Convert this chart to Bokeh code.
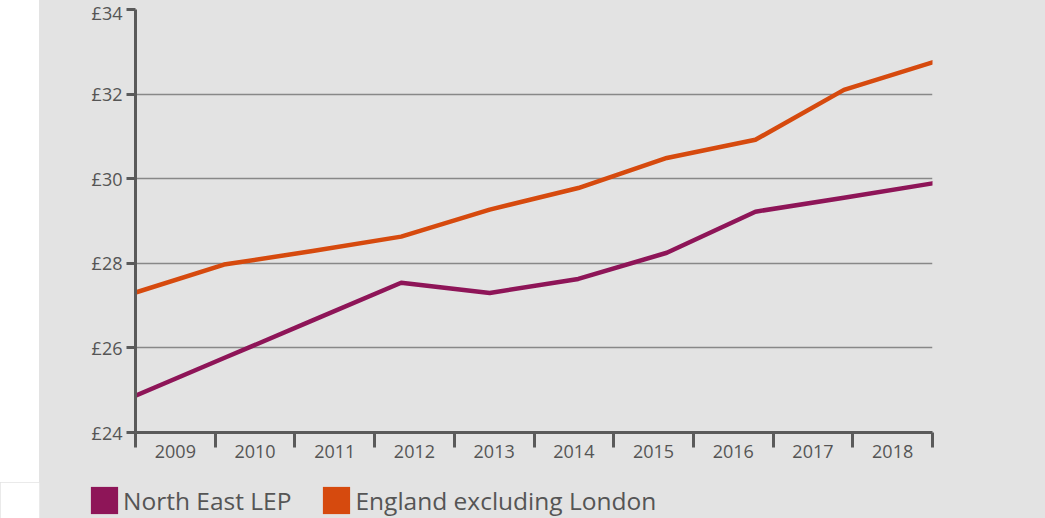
from bokeh.plotting import figure
from bokeh.models import Range1d, FixedTicker, PrintfTickFormatter, Legend, LegendItem, Spacer
from bokeh.layouts import row, column
from bokeh.embed import file_html
from bokeh.resources import INLINE

years = [2009, 2010, 2011, 2012, 2013, 2014, 2015, 2016, 2017, 2018]
year_labels = [str(y) for y in years]
north_east_lep = [24.87, 25.76, 26.65, 27.54, 27.30, 27.63, 28.25, 29.22, 29.55, 29.89]
england_excl_london = [27.31, 27.97, 28.29, 28.63, 29.27, 29.78, 30.49, 30.92, 32.10, 32.75]
y_ticks = [24, 26, 28, 30, 32, 34]
series_names = ["North East LEP", "England excluding London"]
series_colors = ["#8e1558", "#d64a0e"]

BG = "#e3e3e3"
TXT = "#555555"
AXIS = "#5a5a5a"
FONT = "Open Sans"

p = figure(width=1006, height=482,
           x_range=Range1d(years[0], years[-1]), y_range=Range1d(y_ticks[0], y_ticks[-1]),
           output_backend="svg", toolbar_location=None,
           min_border_left=96, min_border_right=113, min_border_top=9, min_border_bottom=50,
           background_fill_color=BG, border_fill_color=BG, outline_line_color=None)
p.styles = {"background-color": BG}

# category bands on the x axis
n = len(years)
band = (years[-1] - years[0]) / n
boundaries = [years[0] + band * k for k in range(n + 1)]
centers = [years[0] + band * (k + 0.5) for k in range(n)]

xa = p.xaxis[0]
xa.ticker = FixedTicker(ticks=centers, minor_ticks=boundaries)
xa.major_label_overrides = {c: lab for c, lab in zip(centers, year_labels)}
xa.major_tick_out = 0
xa.major_tick_in = 0
xa.minor_tick_out = 15
xa.minor_tick_in = 0
xa.minor_tick_line_color = AXIS
xa.minor_tick_line_width = 3
xa.axis_line_color = AXIS
xa.axis_line_width = 3
xa.major_label_standoff = -3
xa.major_label_text_font = FONT
xa.major_label_text_font_size = "18px"
xa.major_label_text_color = TXT

ya = p.yaxis[0]
ya.ticker = FixedTicker(ticks=y_ticks, minor_ticks=[])
ya.formatter = PrintfTickFormatter(format="£%d")
ya.major_tick_out = 9
ya.major_tick_in = 0
ya.major_tick_line_color = AXIS
ya.major_tick_line_width = 3
ya.axis_line_color = AXIS
ya.axis_line_width = 3
ya.major_label_standoff = 4
ya.major_label_text_font = FONT
ya.major_label_text_font_size = "18px"
ya.major_label_text_color = TXT

p.xgrid.visible = False
p.ygrid.ticker = FixedTicker(ticks=y_ticks)
p.ygrid.grid_line_color = "#888888"
p.ygrid.grid_line_width = 1.6

p.line(years, north_east_lep, line_color=series_colors[0], line_width=4.5,
       line_join="round", line_cap="round")
p.line(years, england_excl_london, line_color=series_colors[1], line_width=4.5,
       line_join="round", line_cap="round")

# legend strip below the chart (swatch glyphs carry no visible data)
lg = figure(width=1045, height=36, x_range=Range1d(0, 1), y_range=Range1d(0, 1),
            output_backend="svg", toolbar_location=None,
            x_axis_type=None, y_axis_type=None,
            min_border_left=39, min_border_right=0, min_border_top=0, min_border_bottom=0,
            background_fill_color=BG, border_fill_color="white", outline_line_color=None)
lg.styles = {"background-color": BG}
lg.xgrid.visible = False
lg.ygrid.visible = False
nan = float("nan")
sw1 = lg.quad(left=[nan], right=[nan], top=[nan], bottom=[nan],
              fill_color=series_colors[0], line_color=None)
sw2 = lg.quad(left=[nan], right=[nan], top=[nan], bottom=[nan],
              fill_color=series_colors[1], line_color=None)

legend = Legend(items=[LegendItem(label=series_names[0], renderers=[sw1]),
                       LegendItem(label=series_names[1], renderers=[sw2])],
                orientation="horizontal", location=(48, 1),
                glyph_width=34, glyph_height=34, label_standoff=2, spacing=28,
                padding=0, margin=0, border_line_color=None, background_fill_alpha=0,
                label_text_font=FONT, label_text_font_size="24.5px", label_text_color=TXT)
lg.add_layout(legend, "center")

layout = column(row(Spacer(width=39, height=482), p), lg)
open("out.html", "w").write(file_html(layout, INLINE))
